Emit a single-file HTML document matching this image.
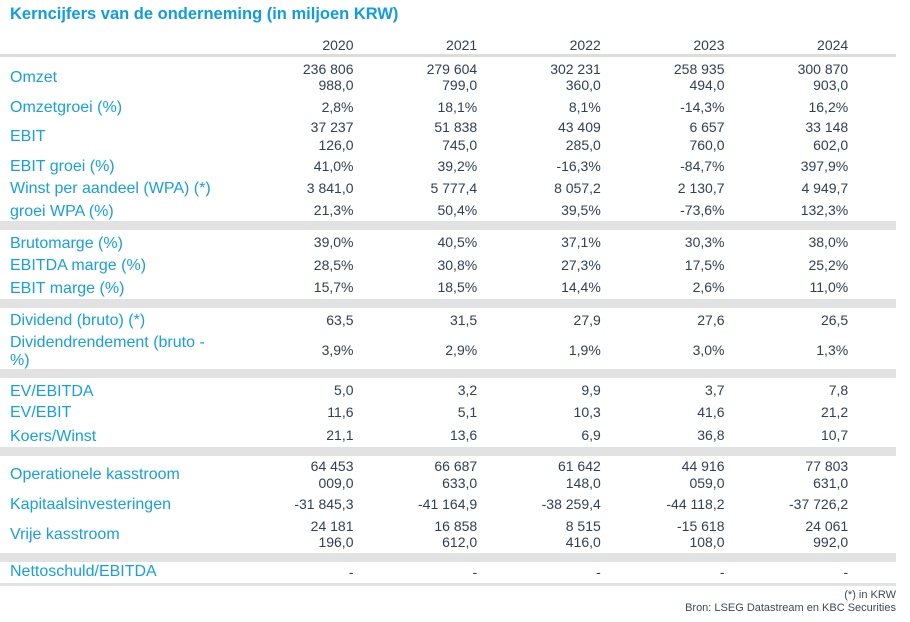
<!DOCTYPE html>
<html>
<head>
<meta charset="utf-8">
<style>
  html,body{margin:0;padding:0;background:#fff;}
  body{width:910px;height:622px;position:relative;overflow:hidden;font-family:"Liberation Sans",Arial,sans-serif;}
  .t{position:absolute;white-space:nowrap;line-height:1;}
  .title{left:10px;top:6.4px;font-size:16.5px;font-weight:bold;color:#0f9de0;}
  .lab{font-size:16px;color:#16a0dd;left:10px;margin-top:1.5px;}
  .v{font-size:14px;color:#2f4057;width:130px;text-align:right;}
  .band{position:absolute;left:0;width:896px;background:#e2e2e2;}
  .foot{font-size:11px;color:#3b4a5c;right:14px;text-align:right;}
</style>
</head>
<body>
<div class="t title">Kerncijfers van de onderneming (in miljoen KRW)</div>

<div class="band" style="top:54px;height:3px;background:#dcdcdc;"></div>
<div class="band" style="top:221px;height:9px;"></div>
<div class="band" style="top:299px;height:9px;"></div>
<div class="band" style="top:369px;height:9px;"></div>
<div class="band" style="top:447px;height:9px;"></div>
<div class="band" style="top:553px;height:9px;"></div>
<div class="band" style="top:583px;height:3px;"></div>

<!-- header years -->
<div class="t v" style="left:223.5px;top:38.2px;">2020</div>
<div class="t v" style="left:347.2px;top:38.2px;">2021</div>
<div class="t v" style="left:470.8px;top:38.2px;">2022</div>
<div class="t v" style="left:594.5px;top:38.2px;">2023</div>
<div class="t v" style="left:718.2px;top:38.2px;">2024</div>

<!-- Labels -->
<div class="t lab" style="top:68px;">Omzet</div>
<div class="t lab" style="top:98px;">Omzetgroei (%)</div>
<div class="t lab" style="top:127.7px;">EBIT</div>
<div class="t lab" style="top:157.9px;">EBIT groei (%)</div>
<div class="t lab" style="top:179.9px;">Winst per aandeel (WPA) (*)</div>
<div class="t lab" style="top:202.4px;">groei WPA (%)</div>
<div class="t lab" style="top:234.2px;">Brutomarge (%)</div>
<div class="t lab" style="top:256.7px;">EBITDA marge (%)</div>
<div class="t lab" style="top:279.2px;">EBIT marge (%)</div>
<div class="t lab" style="top:311.5px;">Dividend (bruto) (*)</div>
<div class="t lab" style="top:333.2px;">Dividendrendement (bruto -</div>
<div class="t lab" style="top:351.2px;">%)</div>
<div class="t lab" style="top:382.4px;">EV/EBITDA</div>
<div class="t lab" style="top:403.7px;">EV/EBIT</div>
<div class="t lab" style="top:427.2px;">Koers/Winst</div>
<div class="t lab" style="top:465.2px;">Operationele kasstroom</div>
<div class="t lab" style="top:495.5px;">Kapitaalsinvesteringen</div>
<div class="t lab" style="top:525.2px;">Vrije kasstroom</div>
<div class="t lab" style="top:562.7px;">Nettoschuld/EBITDA</div>

<!-- Omzet -->
<div class="t v" style="left:223.5px;top:61.5px;">236 806</div>
<div class="t v" style="left:347.2px;top:61.5px;">279 604</div>
<div class="t v" style="left:470.8px;top:61.5px;">302 231</div>
<div class="t v" style="left:594.5px;top:61.5px;">258 935</div>
<div class="t v" style="left:718.2px;top:61.5px;">300 870</div>
<div class="t v" style="left:223.5px;top:77.5px;">988,0</div>
<div class="t v" style="left:347.2px;top:77.5px;">799,0</div>
<div class="t v" style="left:470.8px;top:77.5px;">360,0</div>
<div class="t v" style="left:594.5px;top:77.5px;">494,0</div>
<div class="t v" style="left:718.2px;top:77.5px;">903,0</div>

<!-- Omzetgroei -->
<div class="t v" style="left:223.5px;top:99.7px;">2,8%</div>
<div class="t v" style="left:347.2px;top:99.7px;">18,1%</div>
<div class="t v" style="left:470.8px;top:99.7px;">8,1%</div>
<div class="t v" style="left:594.5px;top:99.7px;">-14,3%</div>
<div class="t v" style="left:718.2px;top:99.7px;">16,2%</div>

<!-- EBIT -->
<div class="t v" style="left:223.5px;top:119.9px;">37 237</div>
<div class="t v" style="left:347.2px;top:119.9px;">51 838</div>
<div class="t v" style="left:470.8px;top:119.9px;">43 409</div>
<div class="t v" style="left:594.5px;top:119.9px;">6 657</div>
<div class="t v" style="left:718.2px;top:119.9px;">33 148</div>
<div class="t v" style="left:223.5px;top:137.5px;">126,0</div>
<div class="t v" style="left:347.2px;top:137.5px;">745,0</div>
<div class="t v" style="left:470.8px;top:137.5px;">285,0</div>
<div class="t v" style="left:594.5px;top:137.5px;">760,0</div>
<div class="t v" style="left:718.2px;top:137.5px;">602,0</div>

<!-- EBIT groei -->
<div class="t v" style="left:223.5px;top:158.9px;">41,0%</div>
<div class="t v" style="left:347.2px;top:158.9px;">39,2%</div>
<div class="t v" style="left:470.8px;top:158.9px;">-16,3%</div>
<div class="t v" style="left:594.5px;top:158.9px;">-84,7%</div>
<div class="t v" style="left:718.2px;top:158.9px;">397,9%</div>

<!-- WPA -->
<div class="t v" style="left:223.5px;top:180.9px;">3 841,0</div>
<div class="t v" style="left:347.2px;top:180.9px;">5 777,4</div>
<div class="t v" style="left:470.8px;top:180.9px;">8 057,2</div>
<div class="t v" style="left:594.5px;top:180.9px;">2 130,7</div>
<div class="t v" style="left:718.2px;top:180.9px;">4 949,7</div>

<!-- groei WPA -->
<div class="t v" style="left:223.5px;top:203.2px;">21,3%</div>
<div class="t v" style="left:347.2px;top:203.2px;">50,4%</div>
<div class="t v" style="left:470.8px;top:203.2px;">39,5%</div>
<div class="t v" style="left:594.5px;top:203.2px;">-73,6%</div>
<div class="t v" style="left:718.2px;top:203.2px;">132,3%</div>

<!-- Brutomarge -->
<div class="t v" style="left:223.5px;top:235.2px;">39,0%</div>
<div class="t v" style="left:347.2px;top:235.2px;">40,5%</div>
<div class="t v" style="left:470.8px;top:235.2px;">37,1%</div>
<div class="t v" style="left:594.5px;top:235.2px;">30,3%</div>
<div class="t v" style="left:718.2px;top:235.2px;">38,0%</div>

<!-- EBITDA marge -->
<div class="t v" style="left:223.5px;top:257.6px;">28,5%</div>
<div class="t v" style="left:347.2px;top:257.6px;">30,8%</div>
<div class="t v" style="left:470.8px;top:257.6px;">27,3%</div>
<div class="t v" style="left:594.5px;top:257.6px;">17,5%</div>
<div class="t v" style="left:718.2px;top:257.6px;">25,2%</div>

<!-- EBIT marge -->
<div class="t v" style="left:223.5px;top:280px;">15,7%</div>
<div class="t v" style="left:347.2px;top:280px;">18,5%</div>
<div class="t v" style="left:470.8px;top:280px;">14,4%</div>
<div class="t v" style="left:594.5px;top:280px;">2,6%</div>
<div class="t v" style="left:718.2px;top:280px;">11,0%</div>

<!-- Dividend -->
<div class="t v" style="left:223.5px;top:313.2px;">63,5</div>
<div class="t v" style="left:347.2px;top:313.2px;">31,5</div>
<div class="t v" style="left:470.8px;top:313.2px;">27,9</div>
<div class="t v" style="left:594.5px;top:313.2px;">27,6</div>
<div class="t v" style="left:718.2px;top:313.2px;">26,5</div>

<!-- Dividendrendement -->
<div class="t v" style="left:223.5px;top:342.7px;">3,9%</div>
<div class="t v" style="left:347.2px;top:342.7px;">2,9%</div>
<div class="t v" style="left:470.8px;top:342.7px;">1,9%</div>
<div class="t v" style="left:594.5px;top:342.7px;">3,0%</div>
<div class="t v" style="left:718.2px;top:342.7px;">1,3%</div>

<!-- EV/EBITDA -->
<div class="t v" style="left:223.5px;top:383.2px;">5,0</div>
<div class="t v" style="left:347.2px;top:383.2px;">3,2</div>
<div class="t v" style="left:470.8px;top:383.2px;">9,9</div>
<div class="t v" style="left:594.5px;top:383.2px;">3,7</div>
<div class="t v" style="left:718.2px;top:383.2px;">7,8</div>

<!-- EV/EBIT -->
<div class="t v" style="left:223.5px;top:404.5px;">11,6</div>
<div class="t v" style="left:347.2px;top:404.5px;">5,1</div>
<div class="t v" style="left:470.8px;top:404.5px;">10,3</div>
<div class="t v" style="left:594.5px;top:404.5px;">41,6</div>
<div class="t v" style="left:718.2px;top:404.5px;">21,2</div>

<!-- Koers/Winst -->
<div class="t v" style="left:223.5px;top:428.2px;">21,1</div>
<div class="t v" style="left:347.2px;top:428.2px;">13,6</div>
<div class="t v" style="left:470.8px;top:428.2px;">6,9</div>
<div class="t v" style="left:594.5px;top:428.2px;">36,8</div>
<div class="t v" style="left:718.2px;top:428.2px;">10,7</div>

<!-- Operationele kasstroom -->
<div class="t v" style="left:223.5px;top:458.9px;">64 453</div>
<div class="t v" style="left:347.2px;top:458.9px;">66 687</div>
<div class="t v" style="left:470.8px;top:458.9px;">61 642</div>
<div class="t v" style="left:594.5px;top:458.9px;">44 916</div>
<div class="t v" style="left:718.2px;top:458.9px;">77 803</div>
<div class="t v" style="left:223.5px;top:475.5px;">009,0</div>
<div class="t v" style="left:347.2px;top:475.5px;">633,0</div>
<div class="t v" style="left:470.8px;top:475.5px;">148,0</div>
<div class="t v" style="left:594.5px;top:475.5px;">059,0</div>
<div class="t v" style="left:718.2px;top:475.5px;">631,0</div>

<!-- Kapitaalsinvesteringen -->
<div class="t v" style="left:223.5px;top:496.5px;">-31 845,3</div>
<div class="t v" style="left:347.2px;top:496.5px;">-41 164,9</div>
<div class="t v" style="left:470.8px;top:496.5px;">-38 259,4</div>
<div class="t v" style="left:594.5px;top:496.5px;">-44 118,2</div>
<div class="t v" style="left:718.2px;top:496.5px;">-37 726,2</div>

<!-- Vrije kasstroom -->
<div class="t v" style="left:223.5px;top:518.9px;">24 181</div>
<div class="t v" style="left:347.2px;top:518.9px;">16 858</div>
<div class="t v" style="left:470.8px;top:518.9px;">8 515</div>
<div class="t v" style="left:594.5px;top:518.9px;">-15 618</div>
<div class="t v" style="left:718.2px;top:518.9px;">24 061</div>
<div class="t v" style="left:223.5px;top:534.9px;">196,0</div>
<div class="t v" style="left:347.2px;top:534.9px;">612,0</div>
<div class="t v" style="left:470.8px;top:534.9px;">416,0</div>
<div class="t v" style="left:594.5px;top:534.9px;">108,0</div>
<div class="t v" style="left:718.2px;top:534.9px;">992,0</div>

<!-- Nettoschuld -->
<div class="t v" style="left:223.5px;top:564.7px;">-</div>
<div class="t v" style="left:347.2px;top:564.7px;">-</div>
<div class="t v" style="left:470.8px;top:564.7px;">-</div>
<div class="t v" style="left:594.5px;top:564.7px;">-</div>
<div class="t v" style="left:718.2px;top:564.7px;">-</div>

<!-- footnotes -->
<div class="t foot" style="top:589.6px;">(*) in KRW</div>
<div class="t foot" style="top:602.6px;">Bron: LSEG Datastream en KBC Securities</div>
</body>
</html>
